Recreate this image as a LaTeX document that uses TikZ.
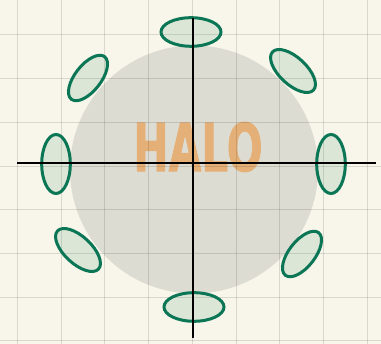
\documentclass[tikz,border=0pt]{standalone}
\usepackage{fontspec}
\usepackage{tikz}
\usetikzlibrary{positioning}
\newfontfamily\halofont{DejaVu Sans}[BoldFeatures={FakeBold=1.6}]
\definecolor{Paper}{HTML}{F8F6EA}
\definecolor{Halo}{HTML}{DDDCD2}
\definecolor{Pod}{HTML}{0A7655}
\definecolor{Ink}{HTML}{E5B078}

\begin{document}
\begin{tikzpicture}[x=1pt,y=1pt,
    pod/.style={draw=Pod,fill=Pod,fill opacity=0.12,line width=3pt},
    axis/.style={line width=2.9pt,black},
    gridline/.style={black,opacity=0.12,line width=1pt},
    word/.style={inner sep=0pt,text=Ink,xscale=0.64,
      font=\halofont\bfseries\fontsize{66}{66}\selectfont}
  ]
    \useasboundingbox[fill=Paper] (0,0) rectangle (381,344);
    \fill[Halo] (194,174.5) circle (124);
    \node[word] (halo) at (198,197) {HALO};
    % grid
    \foreach \i in {0,...,8}
      \draw[gridline] (17.5+43.7*\i,0) -- ++(0,344);
    \foreach \j in {0,...,7}
      \draw[gridline] (0,3.1+43.7*\j) -- ++(381,0);
    % pods round the halo
    \foreach \x/\y/\a/\b/\r in {191/312/30/14.3/0, 194/37/30/14.3/0,
        56/180/14.3/29.5/0, 331/180/14.3/29.5/0,
        88/266/27/13/52, 302/90/27/13/52,
        293/273/28/13.5/-43, 78/94/28/13.5/-43}
      \draw[pod,rotate around={\r:(\x,\y)}] (\x,\y) ellipse ({\a} and {\b});
    % axes
    \coordinate (west) at (17,181);
    \coordinate (east) at (376,181);
    \coordinate (north) at (193,326);
    \coordinate (south) at (193,6);
    \draw[axis] (west) -- (east);
    \draw[axis] (north) -- (south);
  \end{tikzpicture}
\end{document}
